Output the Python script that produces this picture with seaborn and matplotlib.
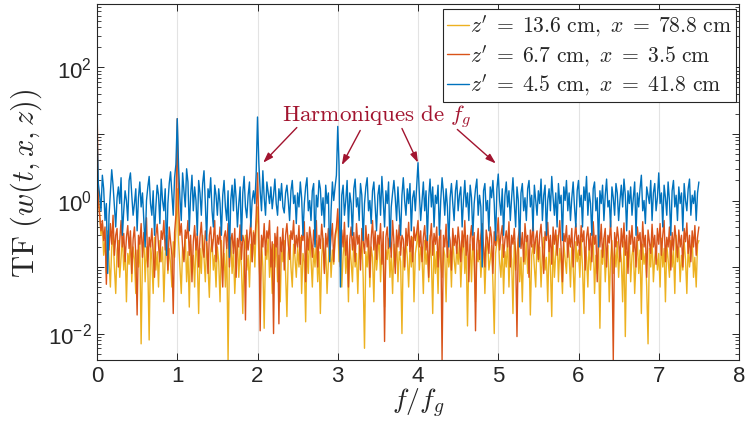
import numpy as np
import matplotlib
matplotlib.use("Agg")
import matplotlib.pyplot as plt
import matplotlib.ticker as mticker
from matplotlib.font_manager import FontProperties
import seaborn as sns

# spectra, one value every 1/60 f/f_g from 0 to 7.5
blue_vals = [
    11, 1.8, 1.2, 0.7, 2.4, 1.5, 0.5, 0.9, 0.08, 0.6, 1.3, 2.9, 1.7, 0.8, 0.4, 1.1, 1.6, 0.9, 2.2, 0.3, 0.7, 1.4, 1.0, 0.5, 2.0, 2.6, 1.2, 0.6, 0.9, 1.5,
    0.35, 1.1, 1.9, 0.8, 1.3, 0.5, 0.2, 1.0, 1.6, 2.3, 0.9, 0.6, 1.4, 0.3, 0.8, 1.7, 1.2, 0.45, 2.1, 1.0, 0.7, 1.5, 0.15, 0.9, 1.8, 2.7, 1.3, 0.6, 2.2, 3.5,
    17, 3.2, 1.1, 0.5, 2.6, 1.4, 0.8, 3.0, 1.9, 0.35, 1.2, 2.4, 0.7, 1.6, 1.0, 0.3, 2.0, 1.3, 0.6, 1.8, 2.8, 0.9, 0.25, 1.5, 1.1, 2.2, 0.7, 0.4, 1.7, 1.2,
    0.6, 1.5, 0.9, 0.3, 1.2, 2.0, 0.8, 0.5, 1.4, 0.14, 1.0, 1.7, 0.7, 2.1, 1.1, 0.4, 0.9, 1.6, 0.25, 1.3, 2.3, 0.8, 0.55, 1.2, 1.9, 0.4, 1.0, 1.4, 0.9, 2.5,
    18, 3.7, 1.4, 0.7, 2.8, 1.1, 0.6, 1.9, 1.3, 0.9, 1.6, 0.75, 1.2, 2.1, 0.9, 0.6, 1.5, 1.0, 1.8, 0.8, 0.65, 1.3, 1.7, 1.0, 0.5, 1.4, 2.0, 0.9, 1.2, 0.45,
    1.3, 0.8, 1.9, 1.1, 0.3, 0.9, 1.6, 2.2, 0.7, 1.0, 0.5, 1.4, 1.8, 0.2, 1.2, 0.8, 2.0, 1.5, 0.6, 1.1, 0.4, 1.7, 0.9, 1.3, 0.12, 0.7, 1.9, 1.0, 1.6, 2.4,
    13, 3.3, 0.05, 1.2, 1.7, 0.6, 1.0, 2.0, 0.4, 1.3, 0.9, 0.3, 1.5, 2.1, 0.8, 1.1, 0.5, 1.8, 1.2, 0.25, 0.9, 1.6, 2.2, 0.7, 1.0, 0.45, 1.4, 1.9, 0.8, 0.35,
    1.2, 1.7, 0.6, 2.3, 1.0, 0.4, 1.4, 0.9, 1.9, 0.2, 0.8, 1.3, 2.0, 1.1, 0.5, 1.6, 0.7, 0.3, 1.2, 2.2, 1.0, 0.6, 1.5, 0.9, 1.8, 0.35, 1.1, 1.4, 0.7, 1.6,
    3.7, 1.3, 0.5, 1.0, 1.9, 0.7, 1.4, 0.25, 1.1, 2.1, 0.8, 1.6, 0.4, 1.2, 0.9, 1.7, 0.3, 1.0, 2.2, 1.3, 0.6, 1.5, 0.8, 0.2, 1.1, 1.8, 0.9, 0.5, 1.4, 2.0,
    0.7, 1.2, 1.6, 0.4, 1.0, 2.0, 0.8, 1.3, 0.5, 1.7, 1.1, 0.3, 0.9, 1.5, 2.1, 0.6, 1.2, 0.8, 0.1, 1.4, 1.8, 0.7, 1.0, 0.35, 1.6, 1.1, 2.0, 0.9, 0.25, 1.5,
    2.5, 1.0, 0.6, 1.5, 0.3, 1.2, 1.9, 0.8, 1.4, 0.5, 1.1, 2.2, 0.9, 0.4, 1.6, 1.0, 0.2, 1.3, 1.8, 0.7, 1.1, 0.5, 1.5, 2.0, 0.8, 1.2, 0.35, 1.7, 1.0, 0.6,
    1.4, 0.9, 2.1, 0.5, 1.2, 1.7, 0.3, 1.0, 1.5, 0.7, 2.3, 1.1, 0.6, 1.3, 0.4, 1.8, 0.9, 1.2, 0.25, 1.6, 1.0, 2.0, 0.7, 1.3, 0.5, 1.1, 1.9, 0.8, 0.4, 1.4,
    2.0, 0.8, 1.2, 0.4, 1.6, 1.0, 2.3, 0.6, 1.3, 0.9, 0.3, 1.5, 1.9, 0.7, 1.1, 0.2, 1.4, 0.9, 1.7, 0.5, 1.2, 2.1, 0.8, 1.0, 0.4, 1.6, 1.1, 0.6, 1.8, 1.3,
    0.5, 1.0, 1.7, 0.8, 2.1, 1.2, 0.35, 1.4, 0.9, 1.6, 0.6, 1.1, 1.9, 0.3, 1.3, 0.8, 1.5, 2.4, 0.7, 1.0, 0.45, 1.6, 1.2, 0.9, 2.0, 0.5, 1.3, 1.8, 0.7, 1.1,
    2.6, 0.9, 1.3, 0.4, 1.7, 1.1, 0.6, 1.9, 1.0, 0.3, 1.4, 2.0, 0.8, 1.2, 0.5, 1.6, 0.9, 1.3, 0.35, 1.8, 1.0, 0.7, 1.5, 2.1, 0.6, 1.2, 0.9, 1.4, 0.5, 1.3,
    1.9,
]
red_vals = [
    35, 1.0, 0.6, 0.35, 0.5, 0.25, 0.4, 0.055, 0.3, 0.18, 0.45, 0.22, 0.6, 0.15, 0.3, 0.38, 0.1, 0.25, 0.5, 0.2, 0.32, 0.12, 0.28, 0.42, 0.19, 0.35, 0.08, 0.26, 0.4, 0.15,
    0.019, 0.3, 0.22, 0.45, 0.14, 0.33, 0.25, 0.55, 0.1, 0.28, 0.2, 0.38, 0.16, 0.07, 0.3, 0.44, 0.21, 0.12, 0.35, 0.26, 0.5, 0.18, 0.3, 0.09, 0.4, 0.24, 0.15, 0.02, 0.33, 0.6,
    17, 0.8, 0.3, 0.45, 0.2, 0.12, 0.36, 0.27, 0.5, 0.15, 0.3, 0.06, 0.24, 0.42, 0.18, 0.32, 0.1, 0.28, 0.47, 0.2, 0.14, 0.35, 0.25, 0.08, 0.3, 0.4, 0.17, 0.26, 0.5, 0.12,
    0.3, 0.22, 0.4, 0.14, 0.05, 0.28, 0.35, 0.19, 0.45, 0.1, 0.25, 0.32, 0.16, 0.38, 0.07, 0.27, 0.2, 0.43, 0.13, 0.3, 0.24, 0.016, 0.36, 0.18, 0.29, 0.5, 0.12, 0.33, 0.22, 0.6,
    2.6, 0.4, 0.011, 0.3, 0.2, 0.45, 0.15, 0.35, 0.27, 0.5, 0.1, 0.24, 0.01, 0.32, 0.2, 0.4, 0.014, 0.28, 0.17, 0.38, 0.09, 0.3, 0.45, 0.22, 0.13, 0.35, 0.26, 0.5, 0.16, 0.3,
    0.2, 0.42, 0.11, 0.3, 0.25, 0.48, 0.06, 0.33, 0.18, 0.4, 0.27, 0.14, 0.36, 0.22, 0.5, 0.1, 0.3, 0.19, 0.44, 0.25, 0.08, 0.32, 0.2, 0.38, 0.15, 0.28, 0.45, 0.12, 0.3, 0.4,
    0.75, 0.25, 0.1, 0.36, 0.2, 0.47, 0.15, 0.3, 0.05, 0.26, 0.4, 0.18, 0.33, 0.12, 0.45, 0.22, 0.3, 0.09, 0.38, 0.25, 0.16, 0.42, 0.2, 0.31, 0.07, 0.27, 0.5, 0.18, 0.35, 0.13,
    0.3, 0.22, 0.45, 0.11, 0.34, 0.0076, 0.28, 0.4, 0.19, 0.3, 0.14, 0.5, 0.24, 0.08, 0.36, 0.2, 0.43, 0.15, 0.3, 0.26, 0.1, 0.38, 0.21, 0.47, 0.17, 0.29, 0.12, 0.4, 0.25, 0.33,
    0.5, 0.2, 0.35, 0.12, 0.28, 0.42, 0.18, 0.3, 0.07, 0.25, 0.45, 0.15, 0.32, 0.22, 0.4, 0.1, 0.27, 0.36, 0.004, 0.3, 0.2, 0.44, 0.14, 0.33, 0.25, 0.09, 0.38, 0.21, 0.3, 0.16,
    0.4, 0.24, 0.12, 0.35, 0.2, 0.5, 0.15, 0.3, 0.06, 0.27, 0.42, 0.18, 0.33, 0.011, 0.22, 0.38, 0.13, 0.3, 0.45, 0.2, 0.1, 0.36, 0.25, 0.16, 0.4, 0.28, 0.08, 0.34, 0.21, 0.3,
    0.55, 0.18, 0.3, 0.42, 0.14, 0.26, 0.35, 0.2, 0.48, 0.1, 0.3, 0.22, 0.38, 0.15, 0.009, 0.28, 0.4, 0.19, 0.33, 0.12, 0.45, 0.24, 0.3, 0.07, 0.36, 0.2, 0.5, 0.16, 0.27, 0.35,
    0.13, 0.3, 0.44, 0.2, 0.08, 0.34, 0.25, 0.47, 0.17, 0.3, 0.11, 0.4, 0.22, 0.36, 0.15, 0.28, 0.5, 0.19, 0.06, 0.32, 0.24, 0.42, 0.14, 0.3, 0.2, 0.38, 0.1, 0.27, 0.45, 0.21,
    0.3, 0.15, 0.42, 0.24, 0.35, 0.09, 0.28, 0.4, 0.18, 0.32, 0.12, 0.48, 0.22, 0.3, 0.06, 0.36, 0.2, 0.44, 0.14, 0.27, 0.38, 0.1, 0.3, 0.23, 0.5, 0.16, 0.004, 0.33, 0.2, 0.4,
    0.26, 0.12, 0.38, 0.2, 0.46, 0.15, 0.3, 0.08, 0.35, 0.22, 0.42, 0.17, 0.28, 0.1, 0.4, 0.25, 0.33, 0.13, 0.48, 0.2, 0.3, 0.07, 0.36, 0.24, 0.16, 0.44, 0.2, 0.3, 0.11, 0.38,
    0.22, 0.45, 0.15, 0.3, 0.5, 0.12, 0.28, 0.2, 0.4, 0.09, 0.33, 0.18, 0.42, 0.25, 0.14, 0.36, 0.2, 0.3, 0.1, 0.38, 0.24, 0.46, 0.16, 0.3, 0.12, 0.35, 0.2, 0.42, 0.15, 0.28,
    0.4,
]
yellow_vals = [
    2.5, 1.2, 0.6, 0.3, 0.45, 0.15, 0.25, 0.08, 0.35, 0.12, 0.05, 0.2, 0.3, 0.1, 0.04, 0.18, 0.25, 0.07, 0.14, 0.3, 0.09, 0.2, 0.03, 0.16, 0.11, 0.28, 0.06, 0.2, 0.13, 0.04,
    0.18, 0.1, 0.25, 0.007, 0.15, 0.3, 0.06, 0.2, 0.1, 0.008, 0.22, 0.13, 0.04, 0.28, 0.09, 0.17, 0.05, 0.25, 0.12, 0.2, 0.03, 0.15, 0.3, 0.08, 0.19, 0.11, 0.05, 0.24, 0.14, 0.35,
    1.5, 0.25, 0.1, 0.04, 0.2, 0.13, 0.3, 0.06, 0.17, 0.025, 0.22, 0.1, 0.15, 0.05, 0.27, 0.12, 0.02, 0.19, 0.08, 0.3, 0.14, 0.06, 0.23, 0.1, 0.035, 0.18, 0.26, 0.09, 0.15, 0.05,
    0.2, 0.12, 0.03, 0.25, 0.09, 0.16, 0.05, 0.22, 0.004, 0.14, 0.28, 0.08, 0.18, 0.04, 0.12, 0.25, 0.07, 0.2, 0.1, 0.02, 0.16, 0.3, 0.09, 0.15, 0.05, 0.22, 0.12, 0.35, 0.1, 0.4,
    0.8, 0.15, 0.05, 0.25, 0.1, 0.012, 0.2, 0.13, 0.3, 0.07, 0.17, 0.04, 0.22, 0.1, 0.28, 0.06, 0.15, 0.03, 0.2, 0.12, 0.25, 0.08, 0.018, 0.16, 0.3, 0.1, 0.05, 0.22, 0.14, 0.07,
    0.2, 0.1, 0.28, 0.04, 0.16, 0.12, 0.015, 0.22, 0.08, 0.3, 0.13, 0.05, 0.19, 0.1, 0.25, 0.06, 0.17, 0.02, 0.14, 0.27, 0.09, 0.2, 0.04, 0.12, 0.3, 0.07, 0.18, 0.11, 0.25, 0.35,
    0.5, 0.12, 0.2, 0.05, 0.15, 0.27, 0.08, 0.18, 0.03, 0.22, 0.12, 0.06, 0.28, 0.1, 0.16, 0.04, 0.21, 0.13, 0.3, 0.07, 0.006, 0.17, 0.1, 0.25, 0.05, 0.2, 0.14, 0.03, 0.24, 0.09,
    0.16, 0.3, 0.06, 0.2, 0.11, 0.025, 0.18, 0.13, 0.27, 0.07, 0.15, 0.04, 0.22, 0.1, 0.3, 0.06, 0.17, 0.12, 0.01, 0.2, 0.09, 0.25, 0.14, 0.05, 0.19, 0.1, 0.28, 0.03, 0.16, 0.22,
    0.35, 0.09, 0.2, 0.14, 0.04, 0.25, 0.11, 0.18, 0.06, 0.3, 0.13, 0.02, 0.22, 0.08, 0.17, 0.04, 0.26, 0.12, 0.07, 0.2, 0.15, 0.03, 0.24, 0.1, 0.18, 0.05, 0.28, 0.13, 0.08, 0.2,
    0.11, 0.25, 0.05, 0.16, 0.3, 0.08, 0.2, 0.013, 0.14, 0.22, 0.06, 0.27, 0.1, 0.03, 0.18, 0.12, 0.25, 0.07, 0.15, 0.2, 0.04, 0.17, 0.28, 0.09, 0.13, 0.21, 0.06, 0.01, 0.16, 0.24,
    0.3, 0.12, 0.07, 0.22, 0.04, 0.17, 0.1, 0.28, 0.05, 0.2, 0.13, 0.02, 0.24, 0.09, 0.16, 0.27, 0.06, 0.14, 0.03, 0.2, 0.11, 0.25, 0.08, 0.18, 0.019, 0.15, 0.22, 0.1, 0.05, 0.26,
    0.12, 0.2, 0.05, 0.17, 0.28, 0.09, 0.14, 0.03, 0.22, 0.1, 0.018, 0.25, 0.07, 0.16, 0.3, 0.06, 0.19, 0.11, 0.04, 0.23, 0.13, 0.08, 0.27, 0.15, 0.05, 0.2, 0.1, 0.03, 0.24, 0.12,
    0.18, 0.07, 0.26, 0.1, 0.02, 0.2, 0.14, 0.05, 0.25, 0.09, 0.17, 0.3, 0.04, 0.15, 0.08, 0.22, 0.012, 0.18, 0.11, 0.27, 0.06, 0.16, 0.21, 0.03, 0.13, 0.25, 0.08, 0.19, 0.1, 0.24,
    0.07, 0.2, 0.13, 0.03, 0.24, 0.009, 0.17, 0.1, 0.28, 0.06, 0.15, 0.21, 0.04, 0.12, 0.25, 0.08, 0.18, 0.02, 0.22, 0.11, 0.16, 0.05, 0.007, 0.19, 0.1, 0.26, 0.06, 0.14, 0.2, 0.09,
    0.16, 0.05, 0.27, 0.1, 0.19, 0.03, 0.22, 0.13, 0.07, 0.25, 0.1, 0.18, 0.04, 0.3, 0.12, 0.2, 0.06, 0.15, 0.09, 0.24, 0.13, 0.04, 0.21, 0.1, 0.17, 0.28, 0.07, 0.14, 0.05, 0.22,
    0.25,
]
assert len(blue_vals) == 451, len(blue_vals)
assert len(red_vals) == 451, len(red_vals)
assert len(yellow_vals) == 451, len(yellow_vals)
f_max = 7.5

labels = [r"$z'\;=\;13.6\ \mathrm{cm},\ x\;=\;78.8\ \mathrm{cm}$",
          r"$z'\;=\;6.7\ \mathrm{cm},\ x\;=\;3.5\ \mathrm{cm}$",
          r"$z'\;=\;4.5\ \mathrm{cm},\ x\;=\;41.8\ \mathrm{cm}$"]
colors = ["#EDB120", "#D95319", "#0072BD"]

arrow_tips = [(2.07, 3.7), (3.05, 3.4), (4.0, 3.7), (4.97, 3.6)]
arrow_tails = [(2.49, 12.5), (3.28, 11.3), (3.80, 12.1), (4.49, 11.7)]

sns.set_style("ticks")
plt.rcParams["font.family"] = ["Liberation Sans", "DejaVu Sans"]

fig = plt.figure(figsize=(7.45, 4.39), dpi=100)
ax = fig.add_axes([97 / 745, 1 - 361 / 439, 642 / 745, 356 / 439])

# vertical grid only
for xv in range(1, 8):
    ax.axvline(xv, color="#e3e3e3", lw=0.8, zorder=0)

for vals, col, lab in zip([yellow_vals, red_vals, blue_vals], colors, labels):
    freq = np.linspace(0, f_max, len(vals))
    sns.lineplot(x=freq, y=vals, color=col, lw=1.0, label=lab, ax=ax,
                 estimator=None, sort=False)

ax.set_yscale("log")
ax.set_xlim(0, 8)
ax.set_ylim(0.004, 900)
ax.set_xticks(range(0, 9))
ax.yaxis.set_major_locator(mticker.FixedLocator([10.0 ** k for k in range(-3, 4)]))
ax.yaxis.set_major_formatter(mticker.FuncFormatter(
    lambda v, p: r"$\mathdefault{10^{%d}}$" % round(np.log10(v)) if round(np.log10(v)) % 2 == 0 else ""))
ax.yaxis.set_minor_locator(mticker.LogLocator(base=10, subs=np.arange(2, 10)))
ax.yaxis.set_minor_formatter(mticker.NullFormatter())

ax.tick_params(which="both", direction="in", top=True, right=True, colors="#262626")
ax.tick_params(which="major", length=5, width=0.7, labelsize=16)
ax.tick_params(which="minor", length=3, width=0.6)
for s in ax.spines.values():
    s.set_color("#262626")
    s.set_linewidth(0.8)

ax.set_xlabel(r"$f/f_g$", fontproperties=FontProperties(math_fontfamily="cm", size=20), labelpad=0)
ax.set_ylabel(r"$\mathrm{TF}\ (w(t,x,z))$", fontproperties=FontProperties(math_fontfamily="cm", size=22),
              labelpad=3)

leg = ax.legend(loc="upper right", bbox_to_anchor=(0.996, 0.986), borderaxespad=0,
                prop=FontProperties(math_fontfamily="cm", size=15.6),
                handlelength=1.0, handletextpad=0.05, labelspacing=0.2,
                borderpad=0.2, frameon=True, fancybox=False)
leg.get_frame().set_edgecolor("#262626")
leg.get_frame().set_linewidth(0.8)
leg.get_frame().set_alpha(1)

dark_red = "#A2142F"
ax.text(3.48, 15.4, r"$\mathrm{Harmoniques\ de}\ f_g$", color=dark_red,
        fontproperties=FontProperties(math_fontfamily="cm", size=16.6),
        ha="center", va="baseline")
for tip, tail in zip(arrow_tips, arrow_tails):
    ax.annotate("", xy=tip, xytext=tail,
                arrowprops=dict(arrowstyle="-|>,head_length=0.6,head_width=0.2",
                                color=dark_red, lw=1.0, shrinkA=0, shrinkB=0))

fig.savefig("out.png", dpi=100)
